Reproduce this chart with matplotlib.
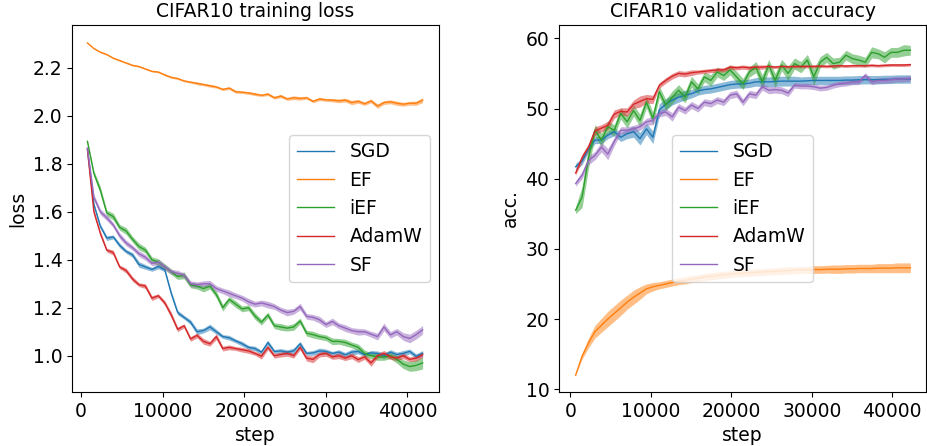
import matplotlib
matplotlib.use("Agg")
import matplotlib.pyplot as plt
import numpy as np

# ---------------- data ----------------
labels = ["SGD", "EF", "iEF", "AdamW", "SF"]

train_steps = [790, 1580, 2370, 3160, 3950, 4740, 5530, 6320, 7110, 7900,
               8690, 9480, 10270, 11060, 11850, 12640, 13430, 14220, 15010, 15800,
               16590, 17380, 18170, 18960, 19750, 20540, 21330, 22120, 22910, 23700,
               24490, 25280, 26070, 26860, 27650, 28440, 29230, 30020, 30810, 31600,
               32390, 33180, 33970, 34760, 35550, 36340, 37130, 37920, 38710, 39500,
               40290, 41080, 41870]

val_steps = [650, 1450, 2250, 3050, 3850, 4650, 5450, 6250, 7050, 7850,
             8650, 9450, 10250, 11050, 11850, 12650, 13450, 14250, 15050, 15850,
             16650, 17450, 18250, 19050, 19850, 20650, 21450, 22250, 23050, 23850,
             24650, 25450, 26250, 27050, 27850, 28650, 29450, 30250, 31050, 31850,
             32650, 33450, 34250, 35050, 35850, 36650, 37450, 38250, 39050, 39850,
             40650, 41450, 42250]

sgd_loss = [1.86, 1.63, 1.54, 1.49, 1.495, 1.46, 1.435, 1.42, 1.38, 1.37,
            1.36, 1.372, 1.358, 1.26, 1.18, 1.16, 1.14, 1.10, 1.105, 1.12,
            1.10, 1.08, 1.075, 1.062, 1.05, 1.035, 1.03, 1.015, 1.055, 1.018,
            1.02, 1.015, 1.02, 1.05, 1.01, 1.012, 1.02, 1.018, 1.01, 1.015,
            1.004, 1.015, 1.018, 1.005, 1.012, 1.01, 1.0, 1.015, 1.005, 1.01,
            1.018, 0.998, 1.01]
ef_loss = [2.303, 2.28, 2.265, 2.255, 2.24, 2.23, 2.22, 2.21, 2.205, 2.195,
           2.185, 2.182, 2.17, 2.16, 2.155, 2.145, 2.14, 2.135, 2.13, 2.125,
           2.12, 2.11, 2.115, 2.10, 2.098, 2.095, 2.09, 2.085, 2.09, 2.075,
           2.082, 2.07, 2.075, 2.072, 2.075, 2.06, 2.07, 2.066, 2.065, 2.062,
           2.065, 2.055, 2.06, 2.05, 2.062, 2.04, 2.055, 2.058, 2.052, 2.048,
           2.052, 2.052, 2.065]
ief_loss = [1.893, 1.76, 1.69, 1.595, 1.58, 1.535, 1.52, 1.485, 1.455, 1.44,
            1.40, 1.39, 1.37, 1.35, 1.33, 1.335, 1.295, 1.29, 1.28, 1.29,
            1.255, 1.20, 1.235, 1.215, 1.195, 1.20, 1.165, 1.14, 1.17, 1.125,
            1.12, 1.115, 1.12, 1.145, 1.094, 1.088, 1.08, 1.075, 1.06, 1.06,
            1.055, 1.045, 1.035, 1.01, 1.0, 0.995, 0.995, 1.0, 0.985, 0.965,
            0.955, 0.96, 0.97]
adam_loss = [1.86, 1.60, 1.51, 1.44, 1.43, 1.37, 1.355, 1.32, 1.296, 1.29,
             1.24, 1.25, 1.22, 1.17, 1.11, 1.125, 1.07, 1.085, 1.06, 1.05,
             1.08, 1.03, 1.035, 1.03, 1.025, 1.02, 1.01, 0.998, 1.035, 1.0,
             1.005, 1.01, 1.0, 1.035, 0.99, 0.985, 1.005, 1.01, 0.995, 1.0,
             0.99, 1.0, 0.984, 0.995, 0.97, 1.0, 1.01, 0.995, 0.99, 1.0,
             0.985, 0.99, 1.005]
sf_loss = [1.865, 1.66, 1.60, 1.575, 1.545, 1.50, 1.47, 1.45, 1.425, 1.41,
           1.385, 1.39, 1.37, 1.35, 1.344, 1.335, 1.30, 1.296, 1.30, 1.30,
           1.28, 1.27, 1.26, 1.25, 1.24, 1.225, 1.215, 1.22, 1.213, 1.205,
           1.19, 1.18, 1.185, 1.205, 1.164, 1.16, 1.15, 1.13, 1.143, 1.125,
           1.115, 1.105, 1.10, 1.10, 1.09, 1.08, 1.12, 1.087, 1.10, 1.08,
           1.072, 1.088, 1.108]

sgd_loss_std = [0.004, 0.008, 0.008, 0.010, 0.008, 0.010, 0.008, 0.010, 0.012, 0.010,
                0.008, 0.010, 0.008, 0.010, 0.010, 0.008, 0.010, 0.012, 0.010, 0.012,
                0.010, 0.008, 0.010, 0.008, 0.010, 0.008, 0.010, 0.008, 0.010, 0.008,
                0.010, 0.010, 0.012, 0.010, 0.008, 0.010, 0.012, 0.010, 0.008, 0.010,
                0.010, 0.012, 0.010, 0.008, 0.010, 0.010, 0.012, 0.010, 0.010, 0.012,
                0.010, 0.010, 0.012]
ef_loss_std = [0.002, 0.002, 0.003, 0.003, 0.003, 0.003, 0.003, 0.003, 0.003, 0.003,
               0.003, 0.003, 0.004, 0.004, 0.004, 0.004, 0.004, 0.006, 0.005, 0.006,
               0.005, 0.005, 0.006, 0.006, 0.005, 0.006, 0.006, 0.005, 0.006, 0.006,
               0.007, 0.006, 0.008, 0.007, 0.006, 0.006, 0.007, 0.006, 0.007, 0.008,
               0.008, 0.009, 0.008, 0.007, 0.008, 0.009, 0.008, 0.008, 0.009, 0.008,
               0.008, 0.009, 0.010]
ief_loss_std = [0.005, 0.012, 0.015, 0.012, 0.014, 0.012, 0.014, 0.012, 0.014, 0.012,
                0.012, 0.014, 0.012, 0.012, 0.012, 0.014, 0.012, 0.012, 0.014, 0.012,
                0.014, 0.014, 0.012, 0.014, 0.012, 0.012, 0.014, 0.012, 0.012, 0.012,
                0.014, 0.012, 0.014, 0.012, 0.012, 0.014, 0.012, 0.012, 0.014, 0.012,
                0.014, 0.012, 0.014, 0.014, 0.012, 0.014, 0.014, 0.012, 0.016, 0.018,
                0.020, 0.022, 0.025]
adam_loss_std = [0.004, 0.010, 0.010, 0.008, 0.010, 0.008, 0.010, 0.010, 0.008, 0.010,
                 0.010, 0.008, 0.010, 0.012, 0.010, 0.008, 0.010, 0.010, 0.012, 0.010,
                 0.012, 0.010, 0.010, 0.008, 0.010, 0.010, 0.008, 0.012, 0.010, 0.010,
                 0.010, 0.012, 0.010, 0.010, 0.012, 0.014, 0.010, 0.012, 0.010, 0.012,
                 0.010, 0.012, 0.012, 0.010, 0.014, 0.010, 0.012, 0.010, 0.010, 0.012,
                 0.010, 0.012, 0.012]
sf_loss_std = [0.006, 0.012, 0.012, 0.012, 0.010, 0.012, 0.012, 0.010, 0.012, 0.012,
               0.010, 0.012, 0.012, 0.010, 0.012, 0.010, 0.012, 0.012, 0.012, 0.014,
               0.012, 0.012, 0.014, 0.012, 0.012, 0.014, 0.012, 0.012, 0.014, 0.012,
               0.012, 0.014, 0.012, 0.014, 0.012, 0.012, 0.014, 0.012, 0.014, 0.012,
               0.014, 0.012, 0.014, 0.012, 0.012, 0.014, 0.016, 0.014, 0.014, 0.016,
               0.018, 0.018, 0.018]

sgd_acc = [41.7, 42.5, 44.3, 45.5, 45.5, 46.2, 46.7, 45.9, 46.4, 46.7,
           45.7, 47.1, 45.9, 49.8, 50.6, 51.2, 51.6, 51.9, 52.1, 52.5,
           52.7, 52.8, 53.0, 53.2, 53.4, 53.5, 53.5, 53.6, 53.8, 53.8,
           53.8, 53.85, 53.9, 53.9, 53.9, 53.9, 53.95, 54.0, 54.0, 54.0,
           54.0, 54.0, 54.05, 54.05, 54.1, 54.1, 54.1, 54.1, 54.15, 54.15,
           54.2, 54.2, 54.2]
ef_acc = [12.0, 14.7, 16.6, 18.2, 19.1, 20.0, 20.8, 21.6, 22.4, 23.1,
          23.7, 24.3, 24.6, 24.8, 25.0, 25.2, 25.4, 25.5, 25.7, 25.8,
          26.0, 26.1, 26.2, 26.3, 26.4, 26.5, 26.55, 26.6, 26.65, 26.7,
          26.75, 26.8, 26.85, 26.9, 26.95, 27.0, 27.0, 27.05, 27.05, 27.1,
          27.1, 27.1, 27.15, 27.15, 27.2, 27.2, 27.2, 27.25, 27.25, 27.25,
          27.3, 27.3, 27.3]
ief_acc = [35.5, 37.4, 43.0, 46.9, 45.5, 47.4, 46.9, 49.3, 48.1, 49.7,
           48.3, 50.9, 48.6, 52.4, 50.5, 51.6, 52.6, 51.6, 53.8, 52.8,
           54.5, 54.0, 55.2, 54.7, 55.5, 54.5, 53.5, 55.2, 55.9, 53.8,
           56.2, 54.0, 56.2, 55.0, 56.4, 55.9, 56.9, 54.5, 56.6, 57.3,
           56.4, 56.6, 57.6, 57.1, 56.9, 56.6, 58.0, 57.8, 57.3, 58.0,
           58.0, 58.3, 58.3]
adam_acc = [40.8, 43.0, 44.5, 46.8, 47.2, 47.6, 49.2, 49.6, 49.5, 50.6,
            51.0, 51.4, 51.3, 53.3, 54.0, 54.6, 55.0, 54.9, 55.1, 55.2,
            55.3, 55.4, 55.5, 55.5, 55.9, 55.8, 55.9, 55.8, 55.9, 55.9,
            56.0, 55.9, 56.0, 55.95, 56.0, 56.0, 56.0, 56.0, 56.05, 56.0,
            56.05, 56.1, 56.05, 56.1, 56.1, 56.1, 56.15, 56.1, 56.15, 56.2,
            56.2, 56.2, 56.25]
sf_acc = [39.3, 40.5, 42.6, 43.3, 44.5, 43.5, 45.3, 46.9, 46.9, 47.1,
          47.4, 48.1, 48.3, 49.3, 49.5, 48.8, 50.2, 49.7, 50.5, 50.0,
          50.9, 50.7, 51.2, 50.9, 51.9, 52.1, 50.9, 52.1, 51.9, 53.1,
          52.6, 52.7, 52.6, 52.2, 53.3, 53.2, 53.2, 53.1, 52.9, 53.0,
          53.3, 53.5, 53.6, 53.8, 53.8, 54.7, 53.8, 54.0, 54.0, 54.1,
          54.2, 54.2, 54.3]

sgd_acc_std = [0.5, 0.5, 0.5, 0.5, 0.5, 0.5, 0.6, 0.6, 0.7, 0.8,
               0.9, 0.8, 0.9, 0.9, 0.8, 0.7, 0.7, 0.7, 0.6, 0.6,
               0.6, 0.6, 0.6, 0.6, 0.6, 0.6, 0.6, 0.6, 0.6, 0.7,
               0.7, 0.7, 0.7, 0.7, 0.7, 0.6, 0.6, 0.6, 0.6, 0.6,
               0.6, 0.6, 0.6, 0.6, 0.6, 0.6, 0.6, 0.6, 0.6, 0.6,
               0.6, 0.6, 0.6]
ef_acc_std = [0.0, 0.4, 0.7, 0.9, 1.0, 1.1, 1.1, 1.1, 1.0, 1.0,
              0.9, 0.7, 0.6, 0.5, 0.5, 0.5, 0.5, 0.5, 0.5, 0.5,
              0.5, 0.5, 0.5, 0.5, 0.5, 0.5, 0.5, 0.5, 0.5, 0.5,
              0.5, 0.5, 0.5, 0.5, 0.5, 0.5, 0.5, 0.55, 0.55, 0.55,
              0.6, 0.6, 0.6, 0.6, 0.6, 0.6, 0.6, 0.65, 0.65, 0.65,
              0.7, 0.7, 0.7]
ief_acc_std = [0.5, 1.5, 1.5, 0.8, 1.0, 0.8, 0.8, 0.8, 0.9, 0.8,
               0.9, 0.8, 0.9, 0.8, 0.8, 0.9, 0.8, 0.8, 0.8, 0.7,
               0.7, 0.8, 0.7, 0.7, 0.7, 0.8, 0.8, 0.7, 0.8, 1.0,
               0.8, 1.0, 0.8, 1.0, 0.8, 0.8, 0.8, 1.2, 0.8, 0.7,
               0.8, 0.7, 0.7, 0.7, 0.7, 0.7, 0.8, 0.7, 0.8, 0.7,
               0.7, 0.8, 0.7]
adam_acc_std = [0.3, 0.5, 0.5, 0.6, 0.5, 0.6, 0.6, 0.5, 0.6, 0.6,
                0.8, 0.6, 0.6, 0.4, 0.4, 0.4, 0.4, 0.4, 0.4, 0.3,
                0.3, 0.3, 0.3, 0.3, 0.3, 0.3, 0.3, 0.3, 0.3, 0.3,
                0.2, 0.2, 0.2, 0.2, 0.2, 0.2, 0.2, 0.2, 0.2, 0.2,
                0.2, 0.2, 0.2, 0.2, 0.2, 0.2, 0.2, 0.2, 0.2, 0.2,
                0.2, 0.2, 0.2]
sf_acc_std = [0.4, 0.5, 0.6, 0.6, 0.7, 0.8, 0.6, 0.5, 0.5, 0.5,
              0.5, 0.5, 0.6, 0.5, 0.5, 0.6, 0.5, 0.5, 0.5, 0.5,
              0.5, 0.5, 0.5, 0.5, 0.5, 0.5, 0.5, 0.5, 0.5, 0.5,
              0.5, 0.5, 0.5, 0.5, 0.4, 0.4, 0.4, 0.4, 0.4, 0.4,
              0.4, 0.4, 0.4, 0.4, 0.4, 0.4, 0.4, 0.4, 0.4, 0.4,
              0.4, 0.4, 0.4]

colors = ["#1f77b4", "#ff7f0e", "#2ca02c", "#d62728", "#9467bd"]

# ---------------- figure ----------------
FS = 13.5
plt.rcParams["font.family"] = ["DejaVu Sans"]
fig = plt.figure(figsize=(9.27, 4.46), dpi=100)
ax1 = fig.add_axes([72 / 927, 1 - 392 / 446, 367 / 927, 367 / 446])
ax2 = fig.add_axes([559 / 927, 1 - 392 / 446, 367 / 927, 367 / 446])

loss_series = [(sgd_loss, sgd_loss_std), (ef_loss, ef_loss_std), (ief_loss, ief_loss_std),
               (adam_loss, adam_loss_std), (sf_loss, sf_loss_std)]
acc_series = [(sgd_acc, sgd_acc_std), (ef_acc, ef_acc_std), (ief_acc, ief_acc_std),
              (adam_acc, adam_acc_std), (sf_acc, sf_acc_std)]

xs_t = np.array(train_steps)
xs_v = np.array(val_steps)
for (m, s), c, lab in zip(loss_series, colors, labels):
    m = np.array(m); s = np.array(s)
    ax1.plot(xs_t, m, color=c, lw=1.0, label=lab)
    ax1.fill_between(xs_t, m - s, m + s, color=c, alpha=0.5, lw=0)
for (m, s), c, lab in zip(acc_series, colors, labels):
    m = np.array(m); s = np.array(s)
    ax2.plot(xs_v, m, color=c, lw=1.0, label=lab)
    ax2.fill_between(xs_v, m - s, m + s, color=c, alpha=0.5, lw=0)

ax1.set_xlim(-1100, 43880)
ax1.set_ylim(0.849, 2.378)
ax1.set_yticks([1.0, 1.2, 1.4, 1.6, 1.8, 2.0, 2.2])
ax2.set_xlim(-1420, 44200)
ax2.set_ylim(9.6, 61.9)
ax2.set_yticks([10, 20, 30, 40, 50, 60])
for ax in (ax1, ax2):
    ax.set_xticks([0, 10000, 20000, 30000, 40000])
    ax.tick_params(labelsize=FS)
    ax.set_xlabel("step", fontsize=FS)

ax1.set_ylabel("loss", fontsize=FS)
ax2.set_ylabel("acc.", fontsize=FS)
ax1.set_title("CIFAR10 training loss", fontsize=FS)
ax2.set_title("CIFAR10 validation accuracy", fontsize=FS)
ax1.legend(loc="center right", fontsize=FS)
ax2.legend(loc="center", fontsize=FS)

fig.savefig("out.png", dpi=100)
